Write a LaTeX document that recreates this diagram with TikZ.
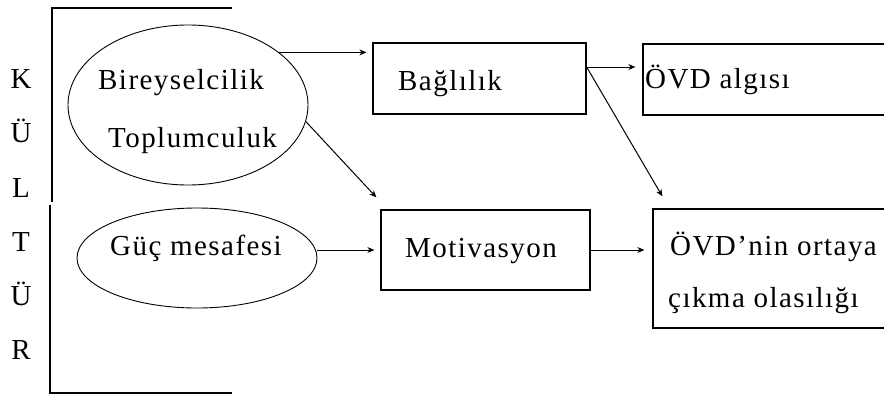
\documentclass[tikz,border=0pt]{standalone}
\usepackage{fontspec}
\setmainfont{Liberation Serif}[LetterSpace=5]
\usetikzlibrary{shapes.geometric,arrows.meta}
\begin{document}
\begin{tikzpicture}[x=1pt,y=-1pt,
  font=\fontsize{29}{33}\selectfont,
  box/.style={draw, line width=1.3pt, inner sep=0pt},
  ell/.style={draw, ellipse, line width=0.9pt, inner sep=0pt},
  txt/.style={inner sep=0pt, anchor=base west},
  lett/.style={inner sep=0pt, anchor=base},
  arr/.style={-{Stealth[length=7pt,width=6pt]}, line width=1pt},
  bracket/.style={line width=1.2pt}]
\useasboundingbox (0,0) rectangle (884,394);
\clip (0,0) rectangle (884,394);
% bracket
\draw[bracket] (232,8) -- (52,8) -- (52,202);
\draw[bracket] (50,205) -- (50,393) -- (232,393);
% letters
\node[lett] (k1) at (21,88) {K};
\node[lett] (k2) at (21,142) {Ü};
\node[lett] (k3) at (21,197) {L};
\node[lett] (k4) at (21,251) {T};
\node[lett] (k5) at (21,305) {Ü};
\node[lett] (k6) at (21,359) {R};
% ellipses
\node[ell, minimum width=240pt, minimum height=160pt] (e1) at (188,105) {};
\node[ell, minimum width=240pt, minimum height=100pt] (e2) at (197,258) {};
\node[txt] (t1) at (98,89) {Bireyselcilik};
\node[txt] (t2) at (108,147) {Toplumculuk};
\node[txt] (t3) at (110,255) {Güç mesafesi};
% boxes
\node[box, minimum width=213pt, minimum height=71pt] (bag) at (479.5,78.5) {};
\node[box, minimum width=209pt, minimum height=80pt] (mot) at (485.5,250) {};
\node[box, minimum width=260pt, minimum height=71pt] (ovd1) at (773,79.5) {};
\node[box, minimum width=257pt, minimum height=119pt] (ovd2) at (781.5,268.5) {};
\node[txt] (t4) at (398,90) {Bağlılık};
\node[txt] (t5) at (405,257) {Motivasyon};
\node[txt] (t6) at (645,88) {ÖVD algısı};
\node[txt] (t7) at (670,255) {ÖVD’nin ortaya};
\node[txt] (t8) at (668,307) {çıkma olasılığı};
% connectors
\coordinate (bagout) at ([yshift=11.5pt]bag.east);
\draw[arr, shorten >=6pt] (e1.30) -- (e1.30 -| bag.west);
\draw[arr, shorten >=7pt] (bagout) -- (bagout -| ovd1.west);
\draw[arr] (e1.-8) -- ([shift={(-4,-12)}]mot.north west);
\draw[arr] (bagout) -- ([shift={(10,-12)}]ovd2.north west);
\draw[arr, shorten >=6pt] (e2.east |- mot.west) -- (mot.west);
\draw[arr, shorten >=8pt] (mot.east) -- (mot.east -| ovd2.west);
\end{tikzpicture}
\end{document}
